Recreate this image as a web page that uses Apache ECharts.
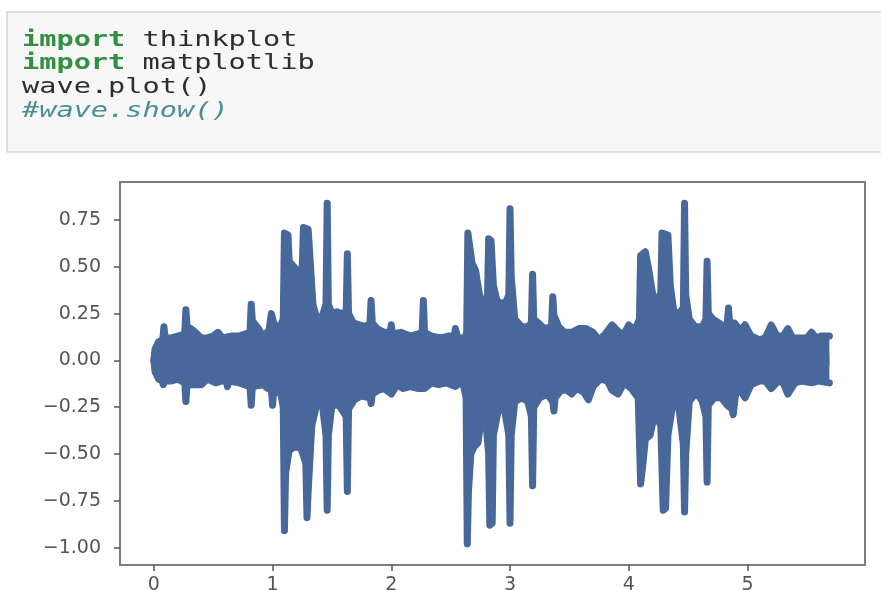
<!DOCTYPE html>
<html><head><meta charset="utf-8">
<script src="https://cdn.jsdelivr.net/npm/echarts@6/dist/echarts.min.js"></script>
<style>html,body{margin:0;padding:0;background:#fff}#c{width:881px;height:590px}</style>
</head><body><div id="c"></div>
<script>
// ---- code cell text ----
const codeLines = [
  [['import', 'kw'], [' thinkplot', 'n']],
  [['import', 'kw'], [' matplotlib', 'n']],
  [['wave.plot()', 'n']],
  [['#wave.show()', 'cm']]
];

// ---- waveform envelope: [time (s), amplitude] ----
const upperEnv = [[0.00,0.00],[0.01,0.06],[0.04,0.10],[0.075,0.11],[0.085,0.18],[0.095,0.12],[0.15,0.12],[0.20,0.13],[0.26,0.14],[0.27,0.27],[0.28,0.18],[0.31,0.17],[0.35,0.15],[0.40,0.12],[0.45,0.12],[0.50,0.13],[0.54,0.15],[0.58,0.12],[0.65,0.13],[0.72,0.13],[0.81,0.15],[0.82,0.30],[0.83,0.21],[0.87,0.18],[0.92,0.13],[0.97,0.16],[0.99,0.25],[1.01,0.20],[1.05,0.16],[1.09,0.22],[1.10,0.68],[1.13,0.67],[1.14,0.53],[1.18,0.50],[1.22,0.47],[1.25,0.50],[1.26,0.71],[1.30,0.70],[1.32,0.50],[1.34,0.30],[1.37,0.23],[1.41,0.22],[1.45,0.30],[1.46,0.84],[1.47,0.30],[1.50,0.25],[1.54,0.26],[1.58,0.25],[1.62,0.26],[1.63,0.57],[1.64,0.25],[1.68,0.20],[1.73,0.19],[1.79,0.18],[1.82,0.20],[1.83,0.32],[1.84,0.20],[1.88,0.17],[1.94,0.15],[1.99,0.15],[2.00,0.19],[2.01,0.14],[2.08,0.15],[2.16,0.13],[2.22,0.14],[2.26,0.15],[2.27,0.32],[2.28,0.15],[2.34,0.13],[2.42,0.12],[2.48,0.13],[2.53,0.13],[2.54,0.17],[2.56,0.12],[2.62,0.12],[2.635,0.15],[2.645,0.68],[2.66,0.67],[2.68,0.52],[2.71,0.48],[2.74,0.36],[2.77,0.30],[2.81,0.32],[2.82,0.65],[2.84,0.64],[2.86,0.40],[2.89,0.32],[2.93,0.30],[2.97,0.32],[2.99,0.35],[3.00,0.81],[3.01,0.45],[3.04,0.22],[3.10,0.18],[3.15,0.18],[3.18,0.20],[3.19,0.46],[3.20,0.22],[3.24,0.20],[3.29,0.17],[3.35,0.18],[3.36,0.34],[3.37,0.24],[3.41,0.18],[3.46,0.15],[3.52,0.15],[3.58,0.17],[3.64,0.17],[3.70,0.15],[3.75,0.11],[3.80,0.14],[3.86,0.19],[3.92,0.15],[3.96,0.14],[4.00,0.19],[4.05,0.16],[4.09,0.22],[4.10,0.56],[4.14,0.58],[4.17,0.48],[4.20,0.36],[4.24,0.30],[4.27,0.36],[4.28,0.68],[4.33,0.67],[4.35,0.40],[4.38,0.26],[4.42,0.25],[4.46,0.28],[4.47,0.84],[4.48,0.35],[4.51,0.22],[4.56,0.18],[4.62,0.18],[4.65,0.22],[4.66,0.53],[4.67,0.25],[4.71,0.22],[4.76,0.20],[4.80,0.18],[4.83,0.20],[4.84,0.28],[4.85,0.20],[4.89,0.20],[4.94,0.16],[4.98,0.19],[5.03,0.13],[5.10,0.11],[5.15,0.12],[5.20,0.19],[5.25,0.13],[5.30,0.13],[5.34,0.17],[5.38,0.12],[5.45,0.12],[5.50,0.12],[5.54,0.15],[5.58,0.12],[5.62,0.13],[5.69,0.13]];
const lowerEnv = [[0.00,0.00],[0.01,-0.06],[0.04,-0.10],[0.07,-0.11],[0.08,-0.13],[0.09,-0.11],[0.15,-0.11],[0.20,-0.10],[0.26,-0.12],[0.27,-0.22],[0.28,-0.13],[0.35,-0.13],[0.40,-0.13],[0.45,-0.10],[0.52,-0.12],[0.58,-0.11],[0.61,-0.11],[0.62,-0.14],[0.63,-0.11],[0.72,-0.12],[0.81,-0.14],[0.82,-0.24],[0.83,-0.14],[0.92,-0.13],[0.96,-0.15],[0.99,-0.15],[1.00,-0.24],[1.01,-0.16],[1.07,-0.18],[1.09,-0.25],[1.10,-0.91],[1.11,-0.60],[1.14,-0.48],[1.19,-0.46],[1.24,-0.47],[1.28,-0.55],[1.29,-0.84],[1.30,-0.70],[1.33,-0.35],[1.37,-0.24],[1.42,-0.24],[1.45,-0.40],[1.46,-0.80],[1.47,-0.40],[1.50,-0.24],[1.56,-0.24],[1.62,-0.30],[1.63,-0.70],[1.64,-0.26],[1.69,-0.21],[1.75,-0.19],[1.82,-0.20],[1.83,-0.23],[1.84,-0.18],[1.89,-0.16],[1.94,-0.15],[2.00,-0.18],[2.05,-0.13],[2.10,-0.15],[2.16,-0.14],[2.22,-0.15],[2.28,-0.15],[2.34,-0.12],[2.40,-0.13],[2.46,-0.12],[2.54,-0.14],[2.60,-0.11],[2.63,-0.20],[2.64,-0.98],[2.65,-0.70],[2.67,-0.50],[2.70,-0.46],[2.73,-0.44],[2.76,-0.30],[2.79,-0.28],[2.82,-0.50],[2.83,-0.88],[2.85,-0.87],[2.86,-0.40],[2.90,-0.27],[2.95,-0.25],[2.99,-0.40],[3.00,-0.87],[3.01,-0.40],[3.04,-0.22],[3.10,-0.20],[3.15,-0.22],[3.18,-0.30],[3.19,-0.67],[3.20,-0.25],[3.25,-0.20],[3.31,-0.18],[3.36,-0.22],[3.37,-0.27],[3.38,-0.20],[3.43,-0.16],[3.48,-0.16],[3.52,-0.18],[3.56,-0.15],[3.62,-0.17],[3.66,-0.21],[3.70,-0.14],[3.76,-0.10],[3.82,-0.11],[3.86,-0.16],[3.91,-0.18],[3.96,-0.12],[4.02,-0.15],[4.08,-0.20],[4.10,-0.66],[4.12,-0.55],[4.14,-0.42],[4.18,-0.40],[4.22,-0.28],[4.27,-0.35],[4.29,-0.80],[4.31,-0.79],[4.33,-0.40],[4.37,-0.24],[4.42,-0.24],[4.46,-0.45],[4.47,-0.81],[4.48,-0.50],[4.51,-0.22],[4.57,-0.17],[4.62,-0.22],[4.65,-0.30],[4.66,-0.65],[4.67,-0.24],[4.72,-0.20],[4.78,-0.20],[4.83,-0.24],[4.87,-0.26],[4.88,-0.29],[4.90,-0.18],[4.94,-0.16],[4.98,-0.20],[5.03,-0.13],[5.10,-0.11],[5.15,-0.11],[5.20,-0.15],[5.26,-0.11],[5.30,-0.12],[5.34,-0.18],[5.40,-0.12],[5.46,-0.11],[5.54,-0.12],[5.60,-0.11],[5.69,-0.12]];

// ---- tick labels ----
const xTicks = [0, 1, 2, 3, 4, 5];
const yTicks = [-1.00, -0.75, -0.50, -0.25, 0.00, 0.25, 0.50, 0.75];

const waveColor = '#48679a';
const codeColors = { kw: '#338f42', n: '#2e2e2e', cm: '#4b8f95' };
const fontPx = 22;
const charW = fontPx * 0.602; // DejaVu Sans Mono advance

const codeChildren = [];
codeLines.forEach((line, li) => {
  let col = 0;
  line.forEach(([txt, kind]) => {
    codeChildren.push({
      type: 'text', x: col * charW, y: 40 + li * 23.7,
      style: {
        text: txt, fill: codeColors[kind],
        font: (kind === 'cm' ? 'italic ' : '') + (kind === 'kw' ? 'bold ' : '') + fontPx + 'px "DejaVu Sans Mono"',
        verticalAlign: 'middle', align: 'left'
      }
    });
    col += txt.length;
  });
});

const fmtY = v => (v < 0 ? '\u2212' : '') + Math.abs(v).toFixed(2);

const chart = echarts.init(document.getElementById('c'), null, { renderer: 'canvas' });
chart.setOption({
  animation: false,
  backgroundColor: '#ffffff',
  graphic: [
    { type: 'rect', shape: { x: 7, y: 12, width: 880, height: 140 },
      style: { fill: '#f7f7f7', stroke: '#d6d6d6', lineWidth: 1.5 }, z: 0 },
    { type: 'group', x: 22, y: 0, scaleX: 1.3, children: codeChildren, z: 1 }
  ],
  grid: { left: 120, right: 16, top: 182, bottom: 25, show: true,
          borderColor: '#7d7d7d', borderWidth: 2, backgroundColor: '#ffffff',
          outerBoundsMode: 'none' },
  xAxis: {
    type: 'value', min: -0.285, max: 5.99,
    axisLine: { show: false, onZero: false }, splitLine: { show: false },
    axisTick: { show: true, customValues: xTicks, length: 6, lineStyle: { color: '#555', width: 1.5 } },
    axisLabel: { customValues: xTicks, fontSize: 19, color: '#555', margin: 11,
                 fontFamily: 'DejaVu Sans', formatter: v => String(v) }
  },
  yAxis: {
    type: 'value', min: -1.093, max: 0.953,
    axisLine: { show: false, onZero: false }, splitLine: { show: false },
    axisTick: { show: true, customValues: yTicks, length: 6, lineStyle: { color: '#555', width: 1.5 } },
    axisLabel: { customValues: yTicks, fontSize: 19, color: '#555', margin: 19,
                 fontFamily: 'DejaVu Sans', formatter: fmtY }
  },
  series: [
    { type: 'line', symbol: 'none', silent: true, data: upperEnv,
      lineStyle: { color: waveColor, width: 7, cap: 'round', join: 'round' },
      areaStyle: { color: waveColor, opacity: 1, origin: -0.03 } },
    { type: 'line', symbol: 'none', silent: true, data: lowerEnv,
      lineStyle: { color: waveColor, width: 7, cap: 'round', join: 'round' },
      areaStyle: { color: waveColor, opacity: 1, origin: 0.03 } }
  ]
});
</script>
</body></html>
